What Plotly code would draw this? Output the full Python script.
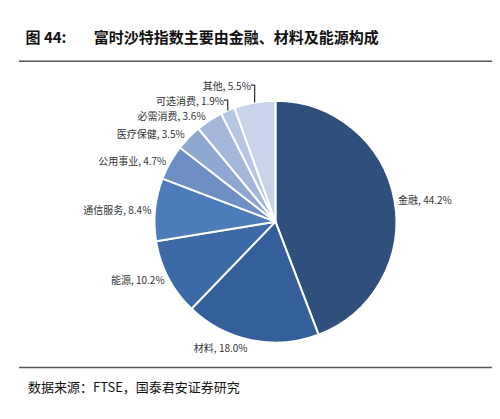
import plotly.graph_objects as go

sectors = ["金融", "材料", "能源", "通信服务", "公用事业", "医疗保健", "必需消费", "可选消费", "其他"]
weights = [44.2, 18.0, 10.2, 8.4, 4.7, 3.5, 3.6, 1.9, 5.5]
colors = ["#2f4f7d", "#345f9a", "#3c6aa6", "#4c7dba", "#6d8fc4", "#8fa8d2", "#a4b7da", "#b7c6e2", "#c8d3e9"]

fig = go.Figure(go.Pie(
    labels=sectors, values=weights, sort=False, direction="clockwise", rotation=0,
    marker=dict(colors=colors, line=dict(color="white", width=2)),
    texttemplate="%{label}, %{value:.1f}%", textposition="outside",
    textfont=dict(family="Noto Sans CJK SC", size=10, color="#333"),
    outsidetextfont=dict(family="Noto Sans CJK SC", size=10, color="#333"),
    domain=dict(x=[0.1, 0.97], y=[0.2, 0.78]),
    automargin=False,
    showlegend=False, hoverinfo="label+value",
))

fig.update_layout(
    width=500, height=419, autosize=False,
    margin=dict(l=1, r=1, t=1, b=1, autoexpand=False),
    paper_bgcolor="white",
    font=dict(family="Noto Sans CJK SC"),
    title=dict(text="<b>图 44:        富时沙特指数主要由金融、材料及能源构成</b>",
               xref="container", yref="container", x=0.035, y=0.93,
               xanchor="left", yanchor="middle", font=dict(size=15, color="#111")),
    annotations=[
        dict(text="数据来源：FTSE，国泰君安证券研究", x=0.035, y=0.095, xref="paper", yref="paper",
             xanchor="left", yanchor="middle", showarrow=False, font=dict(size=13, color="#111")),
    ],
    shapes=[
        dict(type="line", xref="paper", yref="paper", x0=0.02, x1=1, y0=0.875, y1=0.875,
             line=dict(color="#555", width=1.5)),
        dict(type="line", xref="paper", yref="paper", x0=0.02, x1=1, y0=0.14, y1=0.14,
             line=dict(color="#555", width=1.5)),
    ],
)

fig.write_html("out.html")
